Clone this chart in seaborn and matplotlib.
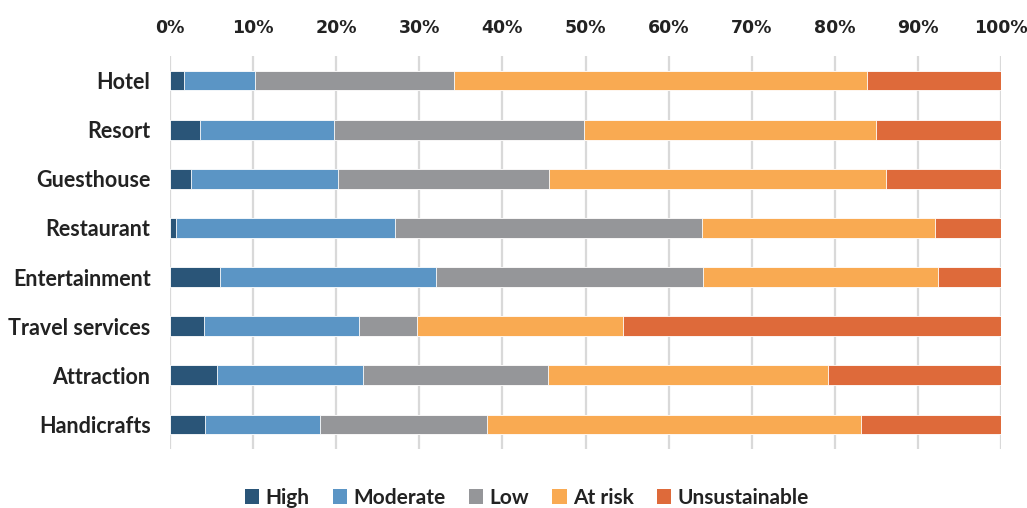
import numpy as np
import pandas as pd
import matplotlib
matplotlib.use("Agg")
import matplotlib.pyplot as plt
from matplotlib.patches import Patch
import seaborn as sns

# Share of businesses by sustainability level (%)
categories = ["Hotel", "Resort", "Guesthouse", "Restaurant", "Entertainment",
              "Travel services", "Attraction", "Handicrafts"]
levels = ["High", "Moderate", "Low", "At risk", "Unsustainable"]
high = [1.7, 3.6, 2.5, 0.7, 6.0, 4.1, 5.6, 4.2]
moderate = [8.5, 16.1, 17.7, 26.4, 26.0, 18.7, 17.6, 13.8]
low = [24.0, 30.1, 25.4, 36.9, 32.1, 6.9, 22.3, 20.2]
at_risk = [49.7, 35.2, 40.6, 28.1, 28.3, 24.8, 33.7, 44.9]
unsustainable = [16.1, 15.0, 13.8, 7.9, 7.6, 45.5, 20.8, 16.9]
tick_values = [0, 10, 20, 30, 40, 50, 60, 70, 80, 90, 100]
tick_labels = [f"{v}%" for v in tick_values]

colors = ["#2a5578", "#5b95c5", "#959699", "#f9aa52", "#de6a3a"]

df = pd.DataFrame({"category": categories, "High": high, "Moderate": moderate,
                   "Low": low, "At risk": at_risk, "Unsustainable": unsustainable})
cum = df[levels].cumsum(axis=1)

sns.set_theme(style="white")
plt.rcParams["font.family"] = ["Lato", "DejaVu Sans"]

fig = plt.figure(figsize=(10.27, 5.08), dpi=100)
ax = fig.add_axes([170 / 1027, 1 - 449 / 508, 831 / 1027, 393 / 508])

# stacked bars: draw cumulative totals from the outermost level inwards
for lvl, col in reversed(list(zip(levels, colors))):
    sns.barplot(data=cum.assign(category=df["category"]), x=lvl, y="category",
                order=categories, orient="h", color=col, width=0.4,
                saturation=1, edgecolor="white", linewidth=0.6, ax=ax, zorder=3)

ax.set_xlim(0, 100)
ax.set_xticks(tick_values)
ax.set_xticklabels(tick_labels)
ax.xaxis.tick_top()
ax.set_xlabel("")
ax.set_ylabel("")
ax.grid(axis="x", color="#d9d9d9", linewidth=1.6, zorder=0)
ax.grid(axis="y", visible=False)
for s in ax.spines.values():
    s.set_visible(False)
ax.tick_params(axis="x", length=0, pad=14, labelsize=12.5, labelcolor="#222222")
ax.tick_params(axis="y", length=0, pad=14, labelsize=15.5, labelcolor="#222222")
for t in ax.get_xticklabels():
    t.set_fontweight("bold")
    t.set_family(["DejaVu Sans"])
for t in ax.get_yticklabels():
    t.set_fontweight("bold")

handles = [Patch(facecolor=c, edgecolor="none", label=l) for l, c in zip(levels, colors)]
leg = fig.legend(handles=handles, loc="center", bbox_to_anchor=(0.513, 0.02),
                 ncol=5, frameon=False, handlelength=0.7, handleheight=0.7,
                 handletextpad=0.3, columnspacing=1.1,
                 prop={"size": 15, "weight": "bold"})
for t in leg.get_texts():
    t.set_color("#222222")

fig.savefig("out.png", dpi=100)
